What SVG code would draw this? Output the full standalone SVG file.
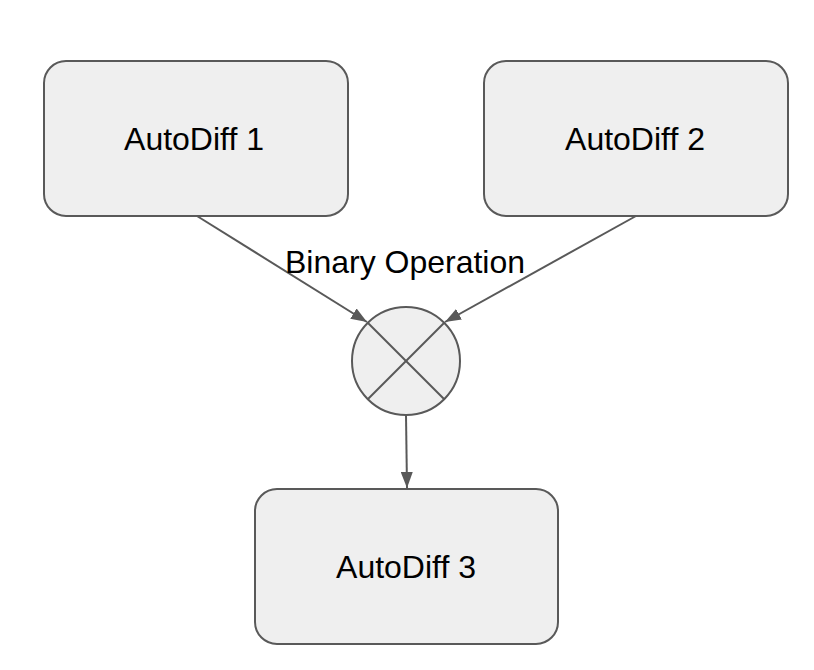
<svg xmlns="http://www.w3.org/2000/svg" width="814" height="670" viewBox="0 0 814 670">
<defs>
<style>
.box{fill:#efefef;stroke:#595959;stroke-width:2}
.lbl{font-family:"Liberation Sans",Arial,sans-serif;font-size:32px;fill:#000;text-anchor:middle}
.conn{stroke:#595959;stroke-width:2;fill:none}
</style>
<marker id="arr" viewBox="0 0 16 12" refX="16" refY="6" markerWidth="8" markerHeight="6" markerUnits="strokeWidth" orient="auto">
<path d="M0,0 L16,6 L0,12 z" fill="#595959"/>
</marker>
</defs>
<rect width="814" height="670" fill="#fff"/>
<g id="node-autodiff1">
<rect class="box" x="44" y="61" width="304" height="155" rx="22"/>
<text class="lbl" x="194" y="150">AutoDiff 1</text>
</g>
<g id="node-autodiff2">
<rect class="box" x="484" y="61" width="304" height="155" rx="22"/>
<text class="lbl" x="635" y="150">AutoDiff 2</text>
</g>
<g id="node-op">
<circle class="box" cx="406" cy="361" r="54"/>
<line class="conn" x1="368" y1="323" x2="444" y2="399"/>
<line class="conn" x1="444" y1="323" x2="368" y2="399"/>
</g>
<g id="node-autodiff3">
<rect class="box" x="255" y="489" width="303" height="155" rx="22"/>
<text class="lbl" x="406" y="578">AutoDiff 3</text>
</g>
<g id="connectors">
<line class="conn" x1="197" y1="216" x2="367" y2="322" marker-end="url(#arr)"/>
<line class="conn" x1="636" y1="216" x2="445" y2="322" marker-end="url(#arr)"/>
<line class="conn" x1="406" y1="415" x2="407" y2="488" marker-end="url(#arr)"/>
<text class="lbl" x="405" y="273">Binary Operation</text>
</g>
</svg>
